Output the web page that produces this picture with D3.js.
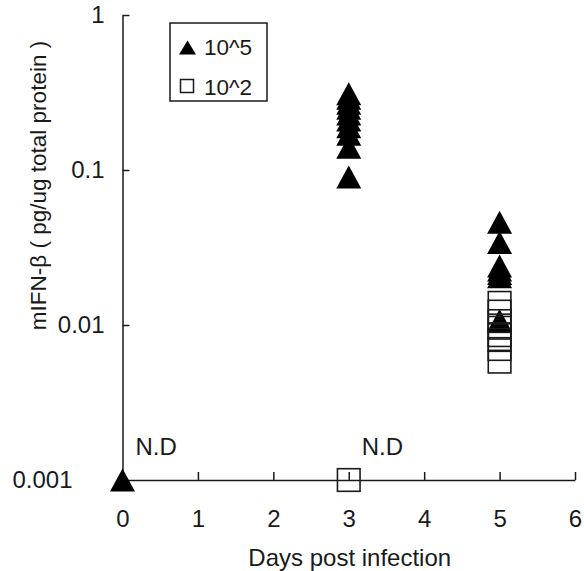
<!DOCTYPE html>
<html>
<head>
<meta charset="utf-8">
<script src="https://cdn.jsdelivr.net/npm/d3@7"></script>
<style>
  html, body { margin: 0; padding: 0; background: #fff; }
  svg { display: block; }
  text { font-family: "Liberation Sans", Arial, sans-serif; fill: #1a1a1a; }
</style>
</head>
<body>
<svg id="chart" width="584" height="571"></svg>
<script>
// ---- data ----
const xTicks = [0, 1, 2, 3, 4, 5, 6];
const yTicks = [0.001, 0.01, 0.1, 1];
const yTickLabels = ["0.001", "0.01", "0.1", "1"];

// 10^5 group (filled triangles)
const hiDays   = [0, 3, 3, 3, 3, 3, 3, 3, 3, 3, 3, 5, 5, 5, 5, 5, 5, 5];
const hiValues = [0.001, 0.31, 0.29, 0.27, 0.25, 0.23, 0.21, 0.19, 0.17, 0.14, 0.09,
                  0.046, 0.034, 0.024, 0.0226, 0.0215, 0.0205, 0.0107];

// 10^2 group (open squares)
const loDays   = [3, 5, 5, 5, 5, 5, 5, 5, 5];
const loValues = [0.001, 0.0139, 0.0122, 0.0106, 0.0096, 0.0086, 0.0080, 0.0070, 0.0058];

const ndDays = [0, 3];
const ndText = ["N.D", "N.D"];

const legendLabels = ["10^5", "10^2"];
const xTitle = "Days post infection";
const yTitle = "mIFN-\u03B2 ( pg/ug total protein )";

// ---- chart ----
const svg = d3.select("#chart");
const ink = "#1a1a1a";

const x = d3.scaleLinear().domain([0, 6]).range([122.5, 575]);
const y = d3.scaleLog().domain([0.001, 1]).range([480, 15]);

// axes
const xAxis = d3.axisBottom(x).tickValues(xTicks).tickFormat(d3.format("d"))
  .tickSizeInner(-8).tickSizeOuter(0).tickPadding(30);
const yAxis = d3.axisLeft(y).tickValues(yTicks).tickFormat((d, i) => yTickLabels[i])
  .tickSizeInner(-7).tickSizeOuter(0).tickPadding(18);

const gx = svg.append("g").attr("transform", `translate(0,${y(0.001)})`).call(xAxis);
const gy = svg.append("g").attr("transform", `translate(${x(0)},0)`).call(yAxis);

[gx, gy].forEach(g => {
  g.select(".domain").attr("stroke", ink).attr("stroke-width", 1.5);
  g.selectAll(".tick line").attr("stroke", ink).attr("stroke-width", 1.5);
  g.selectAll(".tick text").attr("font-size", 24).attr("fill", ink)
    .style("font-family", '"Liberation Sans", Arial, sans-serif');
});
// lowest y label sits further left (clear of the marker on the origin)
gy.selectAll(".tick").filter(d => d === 0.001).select("text").attr("x", -50);
// hide tick line at origin
gx.selectAll(".tick").filter(d => d === 0).select("line").remove();
gy.selectAll(".tick").filter(d => d === 0.001).select("line").remove();

// axis titles
svg.append("text").attr("x", (x(0) + x(6)) / 2 + 1).attr("y", 566)
  .attr("text-anchor", "middle").attr("font-size", 24).text(xTitle);
svg.append("text").attr("transform", `translate(46,${(y(1) + y(0.001)) / 2 - 62}) rotate(-90)`)
  .attr("text-anchor", "middle").attr("font-size", 22.5).text(yTitle);

// marker shapes
const tri = (w, h) => `M0,${-h / 2}L${w / 2},${h / 2}L${-w / 2},${h / 2}Z`;

// N.D labels
svg.selectAll(".nd").data(ndDays).join("text")
  .attr("class", "nd")
  .attr("x", d => x(d) + 13)
  .attr("y", y(0.001) - 25)
  .attr("font-size", 24)
  .text((d, i) => ndText[i]);

// triangles
svg.selectAll(".hi").data(hiDays).join("path")
  .attr("class", "hi")
  .attr("d", tri(25, 23))
  .attr("transform", (d, i) => `translate(${x(d)},${y(hiValues[i])})`)
  .attr("fill", "#000");

// squares
svg.selectAll(".lo").data(loDays).join("rect")
  .attr("class", "lo")
  .attr("x", d => x(d) - 11.3)
  .attr("y", (d, i) => y(loValues[i]) - 11.3)
  .attr("width", 22.6).attr("height", 22.6)
  .attr("fill", "none").attr("stroke", ink).attr("stroke-width", 1.6);

// legend
const lg = svg.append("g");
lg.append("rect").attr("x", 170).attr("y", 23).attr("width", 97).attr("height", 78)
  .attr("fill", "#fff").attr("stroke", ink).attr("stroke-width", 1.5);
lg.append("path").attr("d", tri(17, 14)).attr("transform", "translate(187.5,47.5)").attr("fill", "#000");
lg.append("rect").attr("x", 180.5).attr("y", 79.5).attr("width", 13).attr("height", 13)
  .attr("fill", "none").attr("stroke", ink).attr("stroke-width", 1.5);
lg.selectAll(".lt").data(legendLabels).join("text")
  .attr("class", "lt")
  .attr("x", 204)
  .attr("y", (d, i) => 54.5 + i * 40)
  .attr("font-size", 22.5)
  .text(d => d);
</script>
</body>
</html>
